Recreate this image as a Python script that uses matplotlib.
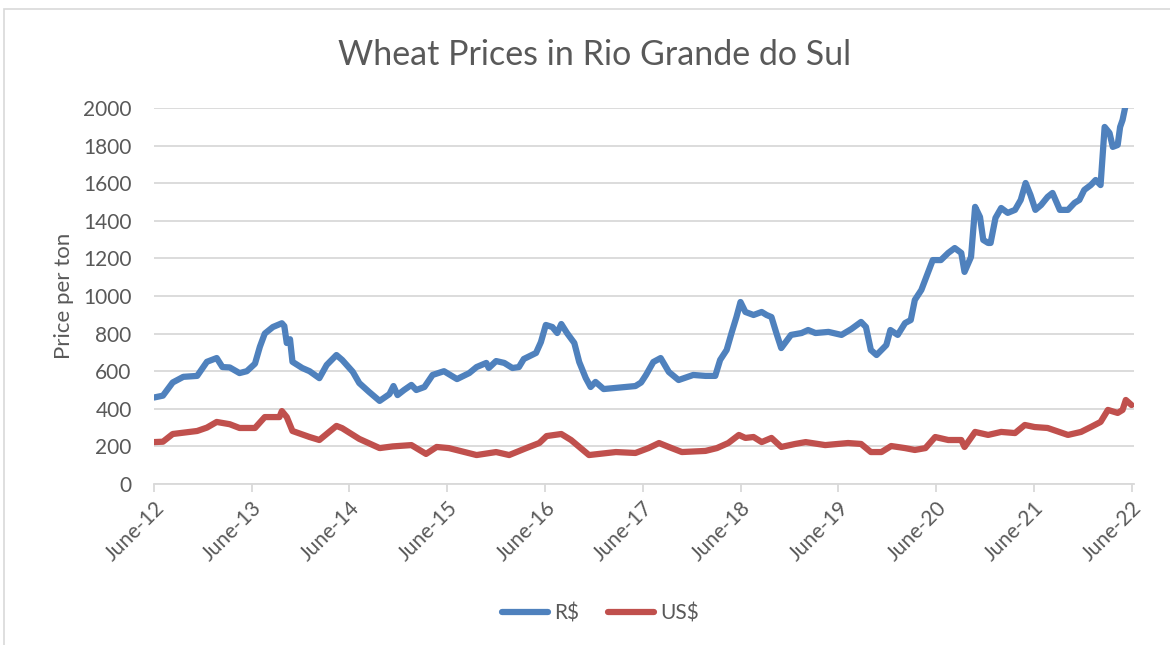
import matplotlib.pyplot as plt
from matplotlib.patches import Rectangle

# months since June 2012 / price per ton
brl_month = [0.0, 1.1, 2.3, 3.6, 5.3, 6.5, 7.7, 8.4, 9.3, 10.5, 11.4, 12.4, 13.0, 13.6,
             14.6, 15.7, 16.0, 16.3, 16.7, 17.0, 18.2, 19.1, 20.3, 21.2, 22.4, 23.1,
             24.4, 25.2, 26.4, 27.7, 28.9, 29.4, 29.9, 30.7, 31.6, 32.2, 33.2, 34.2,
             35.6, 37.2, 38.7, 39.6, 40.8, 41.1, 42.0, 43.0, 44.0, 44.8, 45.4, 46.9,
             47.5, 48.1, 48.9, 49.5, 50.0, 50.7, 51.6, 52.2, 53.0, 53.6, 54.2, 55.2,
             56.7, 57.9, 59.1, 59.8, 60.4, 61.3, 62.2, 63.2, 64.4, 66.2, 67.7, 68.9,
             69.5, 70.3, 70.9, 71.5, 72.0, 72.6, 73.6, 74.6, 75.2, 75.8, 76.4, 77.0,
             78.2, 79.5, 80.3, 81.2, 82.8, 84.4, 85.6, 86.8, 87.4, 88.0, 88.7, 89.9,
             90.4, 91.3, 92.2, 92.9, 93.4, 94.2, 95.0, 95.6, 96.6, 97.5, 98.3, 99.1,
             99.5, 100.3, 100.8, 101.4, 101.8, 102.4, 102.7, 103.3, 104.0, 104.8,
             105.7, 106.4, 107.0, 107.6, 108.2, 108.9, 109.7, 110.3, 111.2, 112.2,
             113.0, 113.6, 114.2, 115.0, 115.6, 116.2, 116.7, 117.3, 117.7, 118.3,
             118.6, 118.9, 119.4]
brl_price = [460, 470, 540, 570, 575, 650, 670, 622, 620, 590, 600, 640, 730, 800,
             835, 855, 840, 750, 770, 650, 617, 600, 563, 633, 686, 660,
             597, 537, 490, 442, 478, 521, 473, 500, 527, 500, 516, 580,
             600, 558, 590, 622, 644, 617, 654, 644, 617, 622, 665, 697,
             755, 846, 835, 803, 851, 803, 750, 649, 564, 516, 543, 505,
             511, 516, 521, 540, 580, 649, 670, 596, 553, 580, 575, 575,
             660, 713, 803, 888, 968, 915, 899, 915, 899, 888, 803, 723,
             793, 803, 819, 803, 809, 793, 824, 862, 835, 713, 686, 739,
             819, 793, 856, 872, 979, 1032, 1122, 1191, 1191, 1229, 1255, 1229,
             1128, 1208, 1474, 1420, 1298, 1282, 1282, 1415, 1468, 1442,
             1458, 1511, 1601, 1537, 1458, 1484, 1527, 1548, 1458, 1458,
             1495, 1511, 1564, 1590, 1617, 1590, 1899, 1867, 1793, 1803,
             1899, 1936, 2040]

usd_month = [0.0, 1.1, 2.3, 5.3, 6.5, 7.7, 9.3, 10.5, 12.4, 13.6, 15.4, 15.7, 16.3,
             17.0, 19.1, 20.3, 22.4, 23.1, 25.2, 27.7, 29.3, 31.6, 33.4, 34.7, 36.2,
             39.6, 42.0, 43.6, 45.7, 47.3, 48.2, 50.0, 51.2, 53.4, 56.7, 59.1, 60.7,
             62.0, 63.2, 64.8, 67.7, 69.1, 70.5, 71.8, 72.6, 73.6, 74.6, 75.8, 77.0,
             78.7, 80.0, 82.4, 85.2, 86.8, 88.0, 89.3, 90.5, 92.2, 93.4, 94.7, 95.9,
             97.5, 99.1, 99.5, 100.8, 102.4, 104.0, 105.7, 106.9, 108.1, 109.7,
             112.2, 113.8, 115.0, 116.2, 117.1, 118.3, 118.9, 119.3, 120.0]
usd_price = [223, 225, 266, 282, 300, 330, 318, 298, 298, 356, 356, 388, 356,
             282, 250, 234, 309, 297, 240, 191, 200, 207, 160, 197, 191,
             154, 170, 154, 191, 218, 255, 266, 234, 154, 170, 165, 191,
             218, 197, 170, 176, 191, 218, 261, 245, 250, 223, 245, 197,
             213, 223, 207, 218, 213, 170, 170, 202, 191, 181, 191, 250,
             234, 234, 197, 277, 261, 277, 271, 314, 303, 298,
             261, 277, 303, 330, 394, 378, 394, 447, 420]

tick_months = [0, 12, 24, 36, 48, 60, 72, 84, 96, 108, 120]
tick_labels = ['June-12', 'June-13', 'June-14', 'June-15', 'June-16', 'June-17',
               'June-18', 'June-19', 'June-20', 'June-21', 'June-22']

TEXT = '#595959'
plt.rcParams['font.family'] = ['Lato', 'DejaVu Sans']

fig = plt.figure(figsize=(11.7, 6.45), dpi=100)
ax = fig.add_axes([0.1316, 0.2496, 0.8376, 0.583])

ax.plot(brl_month, brl_price, color='#4F81BD', lw=4.5, solid_joinstyle='round',
        solid_capstyle='round', label='R$')
ax.plot(usd_month, usd_price, color='#C0504D', lw=4.5, solid_joinstyle='round',
        solid_capstyle='round', label='US$')

ax.set_xlim(0, 120.3)
ax.set_ylim(0, 2000)
ax.set_yticks(range(0, 2001, 200))
ax.set_xticks(tick_months)
ax.set_xticklabels(tick_labels, rotation=45, ha='right', rotation_mode='anchor')
ax.grid(axis='y', color='#D9D9D9', lw=1.3)
ax.set_axisbelow(True)
for s in ['top', 'right', 'left']:
    ax.spines[s].set_visible(False)
ax.spines['bottom'].set_color('#D9D9D9')
ax.spines['bottom'].set_linewidth(1.3)
ax.tick_params(axis='x', colors='#D9D9D9', length=6, width=1.3, labelcolor=TEXT,
               labelsize=15, pad=4)
ax.tick_params(axis='y', length=0, labelcolor=TEXT, labelsize=15, pad=16)

ax.set_ylabel('Price per ton', color=TEXT, fontsize=16, labelpad=7)
fig.text(0.508, 0.915, 'Wheat Prices in Rio Grande do Sul', ha='center', va='center',
         fontsize=24.5, color=TEXT)

leg = fig.legend(loc='center', bbox_to_anchor=(0.513, 0.049), ncol=2, frameon=False,
                 fontsize=15, handlelength=2.2, handletextpad=0.3, columnspacing=1.4)
for t in leg.get_texts():
    t.set_color(TEXT)

fig.patches.append(Rectangle((4 / 1170, -0.1), 1.2, 1.1 - 9 / 645, transform=fig.transFigure,
                             fill=False, edgecolor='#D9D9D9', lw=1.2, clip_on=False))

fig.savefig('out.png', dpi=100)
